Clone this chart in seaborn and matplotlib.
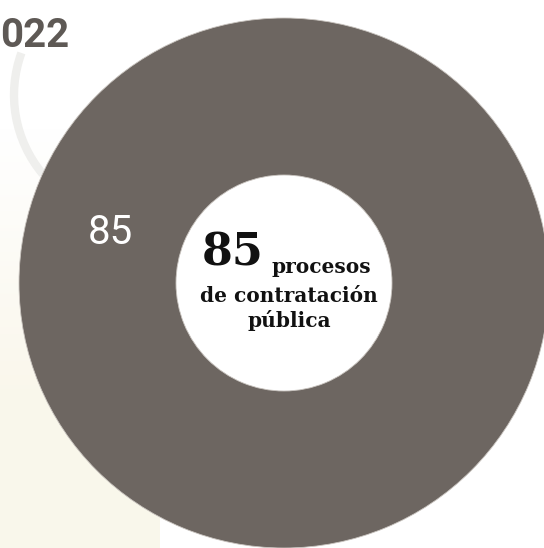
import matplotlib
matplotlib.use("Agg")
import matplotlib.pyplot as plt
from matplotlib.patches import Arc
import numpy as np
import seaborn as sns

# ---- data ----
values = [85]
value_labels = ["85"]
center_number = "85"
center_lines = ["procesos", "de contratación", "pública"]
year_text = "022"

sns.set_theme(style="white")
plt.rcParams["font.family"] = ["DejaVu Sans"]

W, H = 544, 548
fig = plt.figure(figsize=(W / 100, H / 100), dpi=100)
fig.patch.set_facecolor("white")
ax = fig.add_axes([0, 0, 1, 1])
ax.set_facecolor("white")

# soft cream background fading in towards the bottom-left
grad = np.linspace(0, 1, 256).reshape(-1, 1)
cream = np.array([0.980, 0.969, 0.925])
white = np.array([1.0, 1.0, 1.0])
img = white + (cream - white) * np.clip(grad * 1.6, 0, 1)[..., None]
ax.imshow(img, extent=(0, 160, 0, 420), aspect="auto", zorder=0,
          interpolation="bilinear", origin="upper")

ax.add_patch(Arc((137, 453), 246, 246, theta1=160, theta2=220,
                 color="#efefed", linewidth=6, zorder=1))
ax.text(0, 548 - 47, year_text, fontsize=29, fontweight="bold", family="Roboto",
        color="#5e5955", ha="left", va="baseline", zorder=2)

pal = sns.color_palette(["#6d6661"])
cx, cy = 284, 265
ax.pie(values, colors=pal, startangle=247, radius=265, center=(cx, cy),
       wedgeprops=dict(width=157, edgecolor="#c9c4bf", linewidth=0.6),
       frame=False)

# wedge value label
ax.text(110, 316, value_labels[0], fontsize=29, family="Roboto", color="white",
        ha="center", va="center", zorder=5)

# center text
ax.text(202, 283, center_number, fontsize=32, fontweight="bold", family="DejaVu Serif",
        color="#111111", ha="left", va="baseline", zorder=5)
ax.text(272, 275, center_lines[0], fontsize=14.5, fontweight="bold", family="DejaVu Serif",
        color="#111111", ha="left", va="baseline", zorder=5)
ax.text(289, 246, center_lines[1], fontsize=14.5, fontweight="bold", family="DejaVu Serif",
        color="#111111", ha="center", va="baseline", zorder=5)
ax.text(289, 221, center_lines[2], fontsize=14.5, fontweight="bold", family="DejaVu Serif",
        color="#111111", ha="center", va="baseline", zorder=5)

ax.set_xlim(0, W)
ax.set_ylim(0, H)
ax.set_aspect("equal")
ax.axis("off")

fig.savefig("out.png", dpi=100, facecolor="white")
